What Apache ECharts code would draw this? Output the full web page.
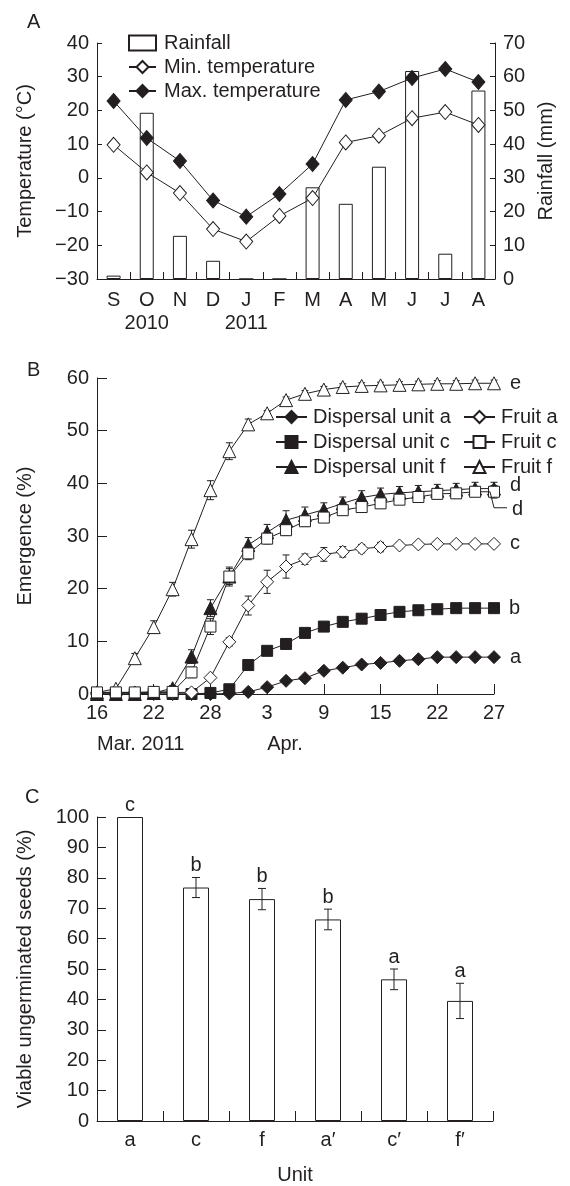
<!DOCTYPE html>
<html><head><meta charset="utf-8">
<script src="https://cdn.jsdelivr.net/npm/echarts@6/dist/echarts.min.js"></script>
<style>html,body{margin:0;padding:0;background:#fff}#c{width:570px;height:1186px}</style>
</head><body><div id="c"></div>
<script>
// ---------- Panel A data ----------
const months = ['S','O','N','D','J','F','M','A','M','J','J','A'];
const yearLabels = ['','2010','','','2011','','','','','','',''];
const rainfall = [1.0,49.3,12.8,5.4,0,0,27.2,22.3,33.3,61.7,7.5,55.9];
const minTemp = [9.8,1.6,-4.5,-15.2,-18.9,-11.3,-6.0,10.5,12.5,17.7,19.5,15.7];
const maxTemp = [22.8,11.8,5.0,-6.7,-11.5,-4.8,4.1,23.1,25.6,29.6,32.3,28.4];

// ---------- Panel B data ----------
const days = ['16','18','20','22','24','26','28','30','1','3','5','7','9','11','13','15','17','19','22','23','25','27'];
const monthMarks = {0:'Mar. 2011', 9:'Apr.'};
const dispA = [0,0,0,0,0,0,0,0.1,0.4,1.3,2.5,3.0,4.4,5.0,5.6,5.9,6.3,6.6,7.0,7.0,7.0,7.0];
const dispC = [0,0,0,0,0,0,0.2,0.9,5.5,8.2,9.5,11.6,12.8,13.7,14.3,15.0,15.6,15.9,16.1,16.3,16.3,16.3];
const dispF = [0,0,0,0.2,1.1,7.1,16.3,22.3,28.3,30.7,33.0,34.0,35.0,36.2,37.3,37.9,38.2,38.4,38.6,38.8,39.0,39.0];
const fruitA = [0.3,0.3,0.3,0.3,0.3,0.3,3.1,9.9,16.8,21.3,24.2,25.6,26.5,27.0,27.6,27.9,28.2,28.4,28.5,28.5,28.5,28.5];
const fruitC = [0.3,0.3,0.3,0.4,0.4,4.1,12.8,22.3,26.7,29.5,31.1,32.8,33.5,34.9,35.5,36.2,36.9,37.4,38.0,38.1,38.4,38.4];
const fruitF = [0.3,1.0,6.8,12.7,19.9,29.4,38.7,46.1,51.2,53.3,55.8,57.0,57.8,58.3,58.5,58.6,58.7,58.8,58.9,58.9,59.0,59.0];
const dispFErr = [0,0,0,0.3,0.5,1.3,1.6,1.8,1.4,1.5,1.8,1.5,1.3,1.2,1.3,1.2,1.2,1.2,1.2,1.2,1.2,1.2];
const fruitAErr = [0,0,0,0,0,0,0.4,0.8,1.8,2.2,2.2,1.0,1.3,1.0,0.8,0.9,0.6,0.5,0.5,0.5,0.5,0.5];
const fruitCErr = [0,0,0,0.9,0.4,1.0,1.5,1.5,1.2,1.0,1.0,1.0,0.9,0.9,0.9,0.9,0.9,0.9,0.9,0.9,0.9,1.2];
const fruitFErr = [0,0.3,0.9,1.2,1.3,1.7,1.8,1.6,1.0,0.5,0.6,0.6,0.6,0.6,0.6,0.6,0.6,0.6,0.6,0.6,0.6,0.6];
const endLetters = {fruitF:'e', dispF:'d', fruitC:'d', fruitA:'c', dispC:'b', dispA:'a'};

// ---------- Panel C data ----------
const units = ['a','c','f','a\u2032','c\u2032','f\u2032'];
const viable = [100,76.8,73.0,66.3,46.6,39.5];
const viableErr = [0,3.3,3.5,3.4,3.4,5.8];
const viableLetters = ['c','b','b','b','a','a'];

const INK = '#231f20';
const FONT = "'Liberation Sans', Arial, sans-serif";
const FS = 20;
const minus = v => String(v).replace('-', '\u2212');

function axisBase(extra) {
  return Object.assign({
    axisLine: {show: true, onZero: false, lineStyle: {color: INK, width: 1}},
    axisTick: {show: true, inside: true, lineStyle: {color: INK, width: 1}},
    splitLine: {show: false},
    axisLabel: {color: INK, fontSize: FS, fontFamily: FONT},
    nameTextStyle: {color: INK, fontSize: FS, fontFamily: FONT}
  }, extra);
}

function errRender(cap, letters) {
  return function (params, api) {
    const i = api.value(0), v = api.value(1), e = api.value(2);
    const hi = api.coord([i, v + e]);
    const lo = api.coord([i, v - e]);
    const ch = [];
    const st = {stroke: INK, lineWidth: 1};
    if (e > 0) {
      ch.push({type: 'line', shape: {x1: hi[0], y1: hi[1], x2: lo[0], y2: lo[1]}, style: st});
      ch.push({type: 'line', shape: {x1: hi[0] - cap, y1: hi[1], x2: hi[0] + cap, y2: hi[1]}, style: st});
      ch.push({type: 'line', shape: {x1: lo[0] - cap, y1: lo[1], x2: lo[0] + cap, y2: lo[1]}, style: st});
    }
    if (letters) {
      ch.push({type: 'text', style: {text: letters[params.dataIndex], x: hi[0], y: hi[1] - 2,
        textAlign: 'center', textVerticalAlign: 'bottom', fontSize: FS, fontFamily: FONT, fill: INK}});
    }
    return {type: 'group', children: ch};
  };
}

function withEndLabel(arr, letter, extraLabel) {
  return arr.map((v, i) => i === arr.length - 1
    ? {value: v, label: Object.assign({show: true, position: 'right', distance: 9, formatter: letter,
        fontSize: FS, fontFamily: FONT, color: INK}, extraLabel || {})}
    : v);
}

function lineSeries(name, data, symbol, size, filled, xi, yi, z) {
  return {
    name, type: 'line', data, xAxisIndex: xi, yAxisIndex: yi, z: z || 3,
    symbol, symbolSize: size, showAllSymbol: true,
    lineStyle: {color: INK, width: 1},
    itemStyle: {color: filled ? INK : '#fff', borderColor: INK, borderWidth: 1},
    emphasis: {disabled: true}
  };
}

function errSeries(values, errs, xi, yi, cap) {
  return {type: 'custom', xAxisIndex: xi, yAxisIndex: yi, z: 1, silent: true,
    renderItem: errRender(cap),
    data: values.map((v, i) => [i, v, errs[i]])};
}

const chart = echarts.init(document.getElementById('c'), null, {renderer: 'canvas'});

const legendText = {fontSize: FS, fontFamily: FONT, color: INK};
const option = {
  animation: false,
  backgroundColor: '#fff',
  textStyle: {fontFamily: FONT, color: INK},
  title: [
    {text: 'A', left: 22, top: 7, textStyle: {fontSize: FS, fontWeight: 'normal', color: INK, fontFamily: FONT}},
    {text: 'B', left: 22, top: 355, textStyle: {fontSize: FS, fontWeight: 'normal', color: INK, fontFamily: FONT}},
    {text: 'C', left: 20, top: 782, textStyle: {fontSize: FS, fontWeight: 'normal', color: INK, fontFamily: FONT}}
  ],
  legend: [
    {left: 128, top: 33, padding: 0, orient: 'vertical', itemWidth: 27, itemHeight: 15, itemGap: 4, selectedMode: false,
      data: [{name: 'Rainfall', icon: 'rect'}, 'Min. temperature', 'Max. temperature'],
      textStyle: Object.assign({padding: [0, 0, 0, 3]}, legendText)},
    {left: 275, top: 407, padding: 0, orient: 'vertical', itemWidth: 31, itemHeight: 15, itemGap: 5, selectedMode: false,
      data: ['Dispersal unit a', 'Dispersal unit c', 'Dispersal unit f'],
      textStyle: Object.assign({padding: [0, 0, 0, 1]}, legendText)},
    {left: 463, top: 407, padding: 0, orient: 'vertical', itemWidth: 31, itemHeight: 15, itemGap: 5, selectedMode: false,
      data: ['Fruit a', 'Fruit c', 'Fruit f'],
      textStyle: Object.assign({padding: [0, 0, 0, 1]}, legendText)}
  ],
  grid: [
    {left: 97, top: 43, width: 398, height: 236},
    {left: 97, top: 378, width: 397, height: 316},
    {left: 97, top: 817, width: 396, height: 307}
  ],
  xAxis: [
    axisBase({type: 'category', gridIndex: 0, data: months, boundaryGap: true,
      axisTick: {show: true, inside: true, length: 7, lineStyle: {color: INK}},
      axisLabel: {color: INK, fontSize: FS, fontFamily: FONT, margin: 10, lineHeight: 23, interval: 0,
        formatter: (v, i) => yearLabels[i] ? v + '\n' + yearLabels[i] : v}}),
    axisBase({type: 'category', gridIndex: 1, data: days, boundaryGap: false,
      axisTick: {show: true, inside: true, length: 10, interval: 2, lineStyle: {color: INK}},
      axisLabel: {color: INK, fontSize: FS, fontFamily: FONT, margin: 9, interval: 2}}),
    axisBase({type: 'category', gridIndex: 1, data: days, boundaryGap: false, position: 'bottom', offset: 31,
      axisLine: {show: false}, axisTick: {show: false},
      axisLabel: {color: INK, fontSize: FS, fontFamily: FONT, margin: 9, align: 'left',
        interval: (i) => monthMarks[i] !== undefined, formatter: (v, i) => monthMarks[i] || ''}}),
    axisBase({type: 'category', gridIndex: 2, data: units, boundaryGap: true,
      axisTick: {show: true, inside: true, length: 10, lineStyle: {color: INK}},
      axisLabel: {color: INK, fontSize: FS, fontFamily: FONT, margin: 9, interval: 0},
      name: 'Unit', nameLocation: 'middle', nameGap: 44})
  ],
  yAxis: [
    axisBase({type: 'value', gridIndex: 0, min: -30, max: 40, interval: 10, position: 'left',
      axisTick: {show: true, inside: true, length: 5, lineStyle: {color: INK}},
      axisLabel: {color: INK, fontSize: FS, fontFamily: FONT, margin: 8, formatter: minus},
      name: 'Temperature (\u00b0C)', nameLocation: 'middle', nameGap: 62}),
    axisBase({type: 'value', gridIndex: 0, min: 0, max: 70, interval: 10, position: 'right',
      axisTick: {show: true, inside: true, length: 5, lineStyle: {color: INK}},
      axisLabel: {color: INK, fontSize: FS, fontFamily: FONT, margin: 8},
      name: 'Rainfall (mm)', nameLocation: 'middle', nameGap: 41}),
    axisBase({type: 'value', gridIndex: 1, min: 0, max: 60, interval: 10,
      axisTick: {show: true, inside: true, length: 10, lineStyle: {color: INK}},
      axisLabel: {color: INK, fontSize: FS, fontFamily: FONT, margin: 8},
      name: 'Emergence (%)', nameLocation: 'middle', nameGap: 62}),
    axisBase({type: 'value', gridIndex: 2, min: 0, max: 100, interval: 10,
      axisTick: {show: true, inside: true, length: 9, lineStyle: {color: INK}},
      axisLabel: {color: INK, fontSize: FS, fontFamily: FONT, margin: 8},
      name: 'Viable ungerminated seeds (%)', nameLocation: 'middle', nameGap: 62})
  ],
  series: [
    // Panel A
    {name: 'Rainfall', type: 'bar', xAxisIndex: 0, yAxisIndex: 1, data: rainfall, barWidth: 14, z: 1,
      itemStyle: {color: '#fff', borderColor: INK, borderWidth: 1}},
    lineSeries('Min. temperature', minTemp, 'diamond', [13, 15], false, 0, 0),
    lineSeries('Max. temperature', maxTemp, 'diamond', [13, 15], true, 0, 0),
    // Panel B errors
    errSeries(fruitF, fruitFErr, 1, 2, 3.5),
    errSeries(dispF, dispFErr, 1, 2, 3.5),
    errSeries(fruitC, fruitCErr, 1, 2, 3.5),
    errSeries(fruitA, fruitAErr, 1, 2, 3.5),
    // Panel B lines
    lineSeries('Dispersal unit a', withEndLabel(dispA, endLetters.dispA), 'diamond', 13, true, 1, 2),
    lineSeries('Dispersal unit c', withEndLabel(dispC, endLetters.dispC), 'rect', 11, true, 1, 2),
    lineSeries('Dispersal unit f', withEndLabel(dispF, endLetters.dispF, {offset: [0, -3]}), 'triangle', 13, true, 1, 2, 4),
    lineSeries('Fruit a', withEndLabel(fruitA, endLetters.fruitA), 'diamond', 13, false, 1, 2),
    lineSeries('Fruit c', withEndLabel(fruitC, endLetters.fruitC, {offset: [3, 18]}), 'rect', 11, false, 1, 2, 5),
    lineSeries('Fruit f', withEndLabel(fruitF, endLetters.fruitF), 'triangle', 13, false, 1, 2),
    // Panel C
    {name: 'Viable', type: 'bar', xAxisIndex: 3, yAxisIndex: 3, data: viable, barWidth: 26, z: 1,
      itemStyle: {color: '#fff', borderColor: INK, borderWidth: 1}},
    {type: 'custom', xAxisIndex: 3, yAxisIndex: 3, z: 5, silent: true,
      renderItem: errRender(4, viableLetters),
      data: viable.map((v, i) => [i, v, viableErr[i]])}
  ]
};
chart.setOption(option);

// leader line from the last "Fruit c" point to its "d" label
const last = fruitC.length - 1;
const p = chart.convertToPixel({xAxisIndex: 1, yAxisIndex: 2}, [last, fruitC[last]]);
chart.setOption({graphic: [{type: 'polyline', silent: true, z: 10,
  shape: {points: [[p[0] - 6, p[1]], [p[0] - 4, p[1]], [p[0] + 0, p[1] + 16], [p[0] + 13, p[1] + 16]]},
  style: {stroke: INK, lineWidth: 1, fill: null}}]});
</script>
</body></html>
